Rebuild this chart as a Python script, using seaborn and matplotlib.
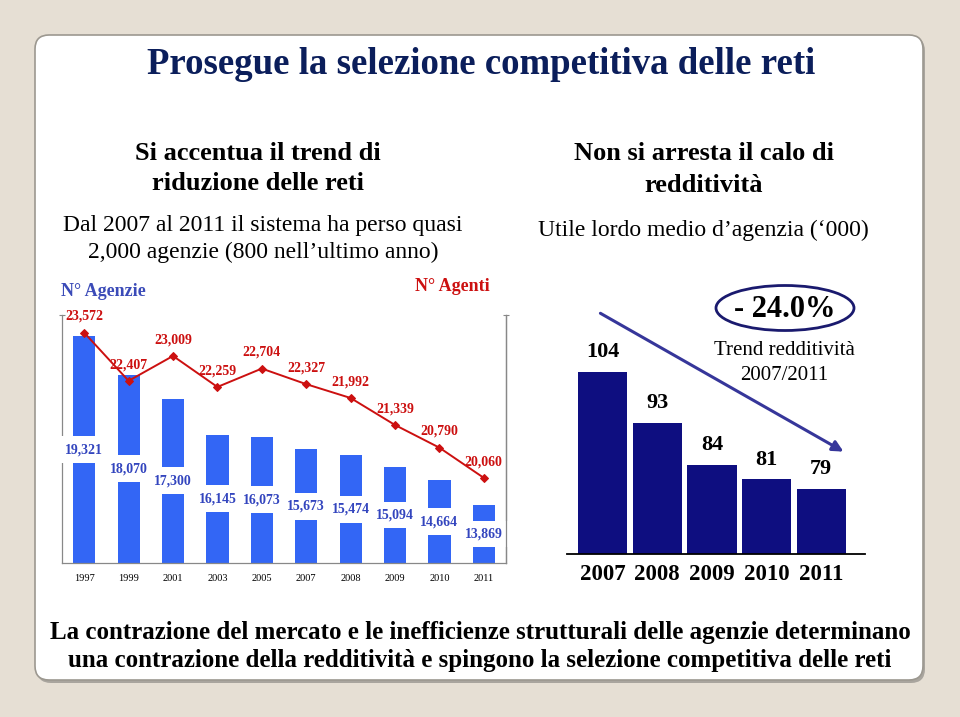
import numpy as np
import matplotlib
matplotlib.use("Agg")
import matplotlib.pyplot as plt
import seaborn as sns
from matplotlib.patches import FancyBboxPatch, Ellipse
from matplotlib.transforms import IdentityTransform

# ---------------- data ----------------
years_left = ["1997", "1999", "2001", "2003", "2005", "2007", "2008", "2009", "2010", "2011"]
agenzie = [19321, 18070, 17300, 16145, 16073, 15673, 15474, 15094, 14664, 13869]
agenti = [23572, 22407, 23009, 22259, 22704, 22327, 21992, 21339, 20790, 20060]

years_right = ["2007", "2008", "2009", "2010", "2011"]
utile = [104, 93, 84, 81, 79]
trend_label = "- 24.0%"

sns.set_theme(style="white")
plt.rcParams["font.family"] = ["Liberation Serif", "DejaVu Serif"]
plt.rcParams["text.color"] = "black"
plt.rcParams["xtick.color"] = "black"
plt.rcParams["ytick.color"] = "black"

W, H = 960, 717
fig = plt.figure(figsize=(W / 100, H / 100), dpi=100)
fig.patch.set_facecolor("#E6DFD4")


def fx(x):
    return x / W


def fy(y):
    return 1 - y / H


# panel with shadow
shadow = FancyBboxPatch((37, H - 683), 888, 646, boxstyle="round,pad=0,rounding_size=14",
                        transform=IdentityTransform(), fc="#A9A59E", ec="none", zorder=-3)
panel = FancyBboxPatch((35, H - 680), 888, 645, boxstyle="round,pad=0,rounding_size=14",
                       transform=IdentityTransform(), fc="white", ec="#9C9890", lw=1.2, zorder=-2)
fig.add_artist(shadow)
fig.add_artist(panel)

navy_title = "#0B1E5B"
blue_bar = "#3366F5"
blue_txt = "#3345BE"
red = "#CC1010"

# ---------------- texts ----------------
fig.text(fx(481), fy(65), "Prosegue la selezione competitiva delle reti", ha="center", va="center",
         fontsize=26.5, fontweight="bold", color=navy_title)

fig.text(fx(258), fy(153), "Si accentua il trend di", ha="center", va="center", fontsize=19, fontweight="bold")
fig.text(fx(258), fy(183), "riduzione delle reti", ha="center", va="center", fontsize=19, fontweight="bold")
fig.text(fx(263), fy(225), "Dal 2007 al 2011 il sistema ha perso quasi", ha="center", va="center", fontsize=17)
fig.text(fx(263), fy(252), "2,000 agenzie (800 nell\u2019ultimo anno)", ha="center", va="center", fontsize=17)

fig.text(fx(704), fy(153), "Non si arresta il calo di", ha="center", va="center", fontsize=19, fontweight="bold")
fig.text(fx(704), fy(185), "redditività", ha="center", va="center", fontsize=19, fontweight="bold")
fig.text(fx(703), fy(230), "Utile lordo medio d\u2019agenzia (\u2018000)", ha="center", va="center", fontsize=17)

fig.text(fx(61), fy(292), "N° Agenzie", ha="left", va="center", fontsize=13, fontweight="bold", color="#3B4BB8")
fig.text(fx(452), fy(286), "N° Agenti", ha="center", va="center", fontsize=13, fontweight="bold", color=red)

fig.text(fx(480), fy(632), "La contrazione del mercato e le inefficienze strutturali delle agenzie determinano",
         ha="center", va="center", fontsize=18, fontweight="bold")
fig.text(fx(480), fy(661), "una contrazione della redditività e spingono la selezione competitiva delle reti",
         ha="center", va="center", fontsize=18, fontweight="bold")

# ---------------- left chart ----------------
ax = fig.add_axes([fx(62), fy(563), fx(444), 248 / H])
ax.set_facecolor("none")
sns.barplot(x=years_left, y=agenzie, ax=ax, color=blue_bar, width=0.5, saturation=1, edgecolor="none")
ax.set_ylim(12000, 20000)
ax.set_xlim(-0.5, len(years_left) - 0.5)
for i, v in enumerate(agenzie):
    ax.text(i, (12000 + v) / 2, f"{v:,}", ha="center", va="center", fontsize=10, fontweight="bold",
            color=blue_txt, bbox=dict(boxstyle="square,pad=0.5", fc="white", ec="none"))
ax.set_xlabel("")
ax.set_ylabel("")
ax.set_xticks(range(len(years_left)))
ax.set_xticklabels(years_left, fontsize=7.5)
ax.tick_params(axis="x", which="major", length=0, pad=8)
ax.set_xticks(np.arange(-0.5, len(years_left), 1), minor=True)
ax.tick_params(axis="x", which="minor", length=6, direction="inout", color="#888888", width=0.8)
ax.set_yticks([20000])
ax.set_yticklabels([])
ax.tick_params(axis="y", length=4, direction="inout", color="#888888", width=0.8, left=True)
for s in ["left", "right", "bottom"]:
    ax.spines[s].set_color("#888888")
    ax.spines[s].set_linewidth(0.9)
ax.spines["top"].set_visible(False)

ax2 = ax.twinx()
ax2.set_facecolor("none")
xs = np.arange(len(agenti))
sns.lineplot(x=xs, y=agenti, ax=ax2, color=red, lw=1.4, marker="D", markersize=4,
             markeredgecolor=red, markerfacecolor=red)
ax2.set_ylim(18000, 24000)
ax2.set_xlim(-0.5, len(years_left) - 0.5)
for i, v in enumerate(agenti):
    ax2.annotate(f"{v:,}", (i, v), xytext=(0, 7), textcoords="offset points", ha="center", va="bottom",
                 fontsize=10, fontweight="bold", color=red)
ax2.set_yticks([24000])
ax2.set_yticklabels([])
ax2.tick_params(axis="y", length=4, direction="inout", color="#888888", width=0.8, right=True)
for s in ["top", "left", "bottom"]:
    ax2.spines[s].set_visible(False)
ax2.spines["right"].set_color("#888888")
ax2.spines["right"].set_linewidth(0.9)

# ---------------- right chart ----------------
axr = fig.add_axes([fx(567), fy(554), fx(298), 257 / H])
axr.set_facecolor("none")
sns.barplot(x=years_right, y=utile, ax=axr, color="#0E0E80", width=0.9, saturation=1, edgecolor="none")
axr.set_ylim(65, 120)
axr.set_xlim(-0.65, 4.8)
for i, v in enumerate(utile):
    axr.annotate(f"{v}", (i, v), xytext=(0, 7), textcoords="offset points", ha="center", va="bottom",
                 fontsize=16, fontweight="bold", color="black")
axr.set_xlabel("")
axr.set_ylabel("")
axr.set_yticks([])
axr.set_xticks(range(len(years_right)))
axr.set_xticklabels(years_right, fontsize=16.5, fontweight="bold")
axr.tick_params(axis="x", length=0, pad=7)
for s in ["left", "right", "top"]:
    axr.spines[s].set_visible(False)
axr.spines["bottom"].set_color("black")
axr.spines["bottom"].set_linewidth(1.3)

axr.annotate("", xy=(0.936, 0.393), xytext=(0.104, 0.942), xycoords="axes fraction",
             arrowprops=dict(arrowstyle="-|>", color="#36369A", lw=2.2, mutation_scale=16))

ell = Ellipse((fx(785), fy(308)), fx(138), 45 / H, transform=fig.transFigure, fc="white",
              ec="#1A1A6E", lw=2)
fig.add_artist(ell)
fig.text(fx(785), fy(309), trend_label, ha="center", va="center", fontsize=22, fontweight="bold")
fig.text(fx(784), fy(350), "Trend redditività", ha="center", va="center", fontsize=15)
fig.text(fx(784), fy(376), "2007/2011", ha="center", va="center", fontsize=15)

fig.savefig("out.png", dpi=100, facecolor=fig.get_facecolor())
